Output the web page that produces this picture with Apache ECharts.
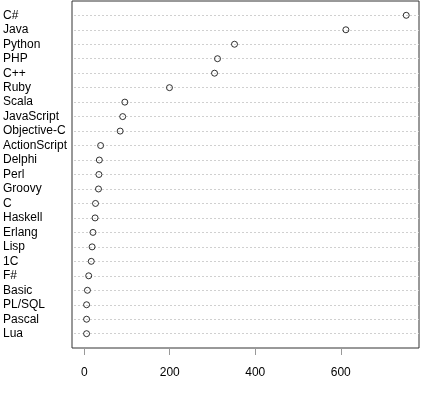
<!DOCTYPE html>
<html>
<head>
<meta charset="utf-8">
<script src="https://cdn.jsdelivr.net/npm/echarts@6/dist/echarts.min.js"></script>
<style>
html,body{margin:0;padding:0;background:#fff;}
#c{width:421px;height:396px;}
</style>
</head>
<body>
<div id="c"></div>
<script>
var languages = ["C#","Java","Python","PHP","C++","Ruby","Scala","JavaScript","Objective-C","ActionScript","Delphi","Perl","Groovy","C","Haskell","Erlang","Lisp","1C","F#","Basic","PL/SQL","Pascal","Lua"];
var counts = [753,611,349,309,302,196,91,86,80,34,31,30,29,22,21,16,14,12,6,3,1,1,1];
var xTicks = [0,200,400,600];
var xMin = -28.6, xMax = 783;

var chart = echarts.init(document.getElementById('c'), null, {renderer:'canvas'});
var font = 'Liberation Sans, Arial, Helvetica, sans-serif';
chart.setOption({
  animation:false,
  backgroundColor:'#fff',
  grid:[
    {left:72, right:2, top:1, bottom:48, show:true, borderColor:'#333', borderWidth:1, backgroundColor:'transparent'},
    {left:72, right:2, top:15.3, bottom:62.3, show:false}
  ],
  xAxis:[
    {gridIndex:0, type:'value', min:xMin, max:xMax,
     axisLine:{show:false}, splitLine:{show:false},
     axisTick:{show:true, length:7, lineStyle:{color:'#999'}, customValues:xTicks},
     axisLabel:{show:true, margin:19, fontSize:12, fontFamily:font, color:'#000', customValues:xTicks}
    },
    {gridIndex:1, type:'value', min:xMin, max:xMax, show:false}
  ],
  yAxis:[
    {gridIndex:0, type:'value', min:0, max:1, show:false},
    {gridIndex:1, type:'category', data:languages, inverse:true, boundaryGap:false,
     axisLine:{show:false}, axisTick:{show:false},
     axisLabel:{show:true, align:'left', margin:71, fontSize:12, fontFamily:font, color:'#000', interval:0},
     splitLine:{show:true, interval:0, lineStyle:{color:'#d0d0d0', type:[2,2], width:1}}
    }
  ],
  series:[
    {type:'scatter', xAxisIndex:1, yAxisIndex:1, data:counts,
     symbol:'circle', symbolSize:6,
     itemStyle:{color:'rgba(0,0,0,0)', borderColor:'#000', borderWidth:1}
    }
  ]
});
</script>
</body>
</html>
